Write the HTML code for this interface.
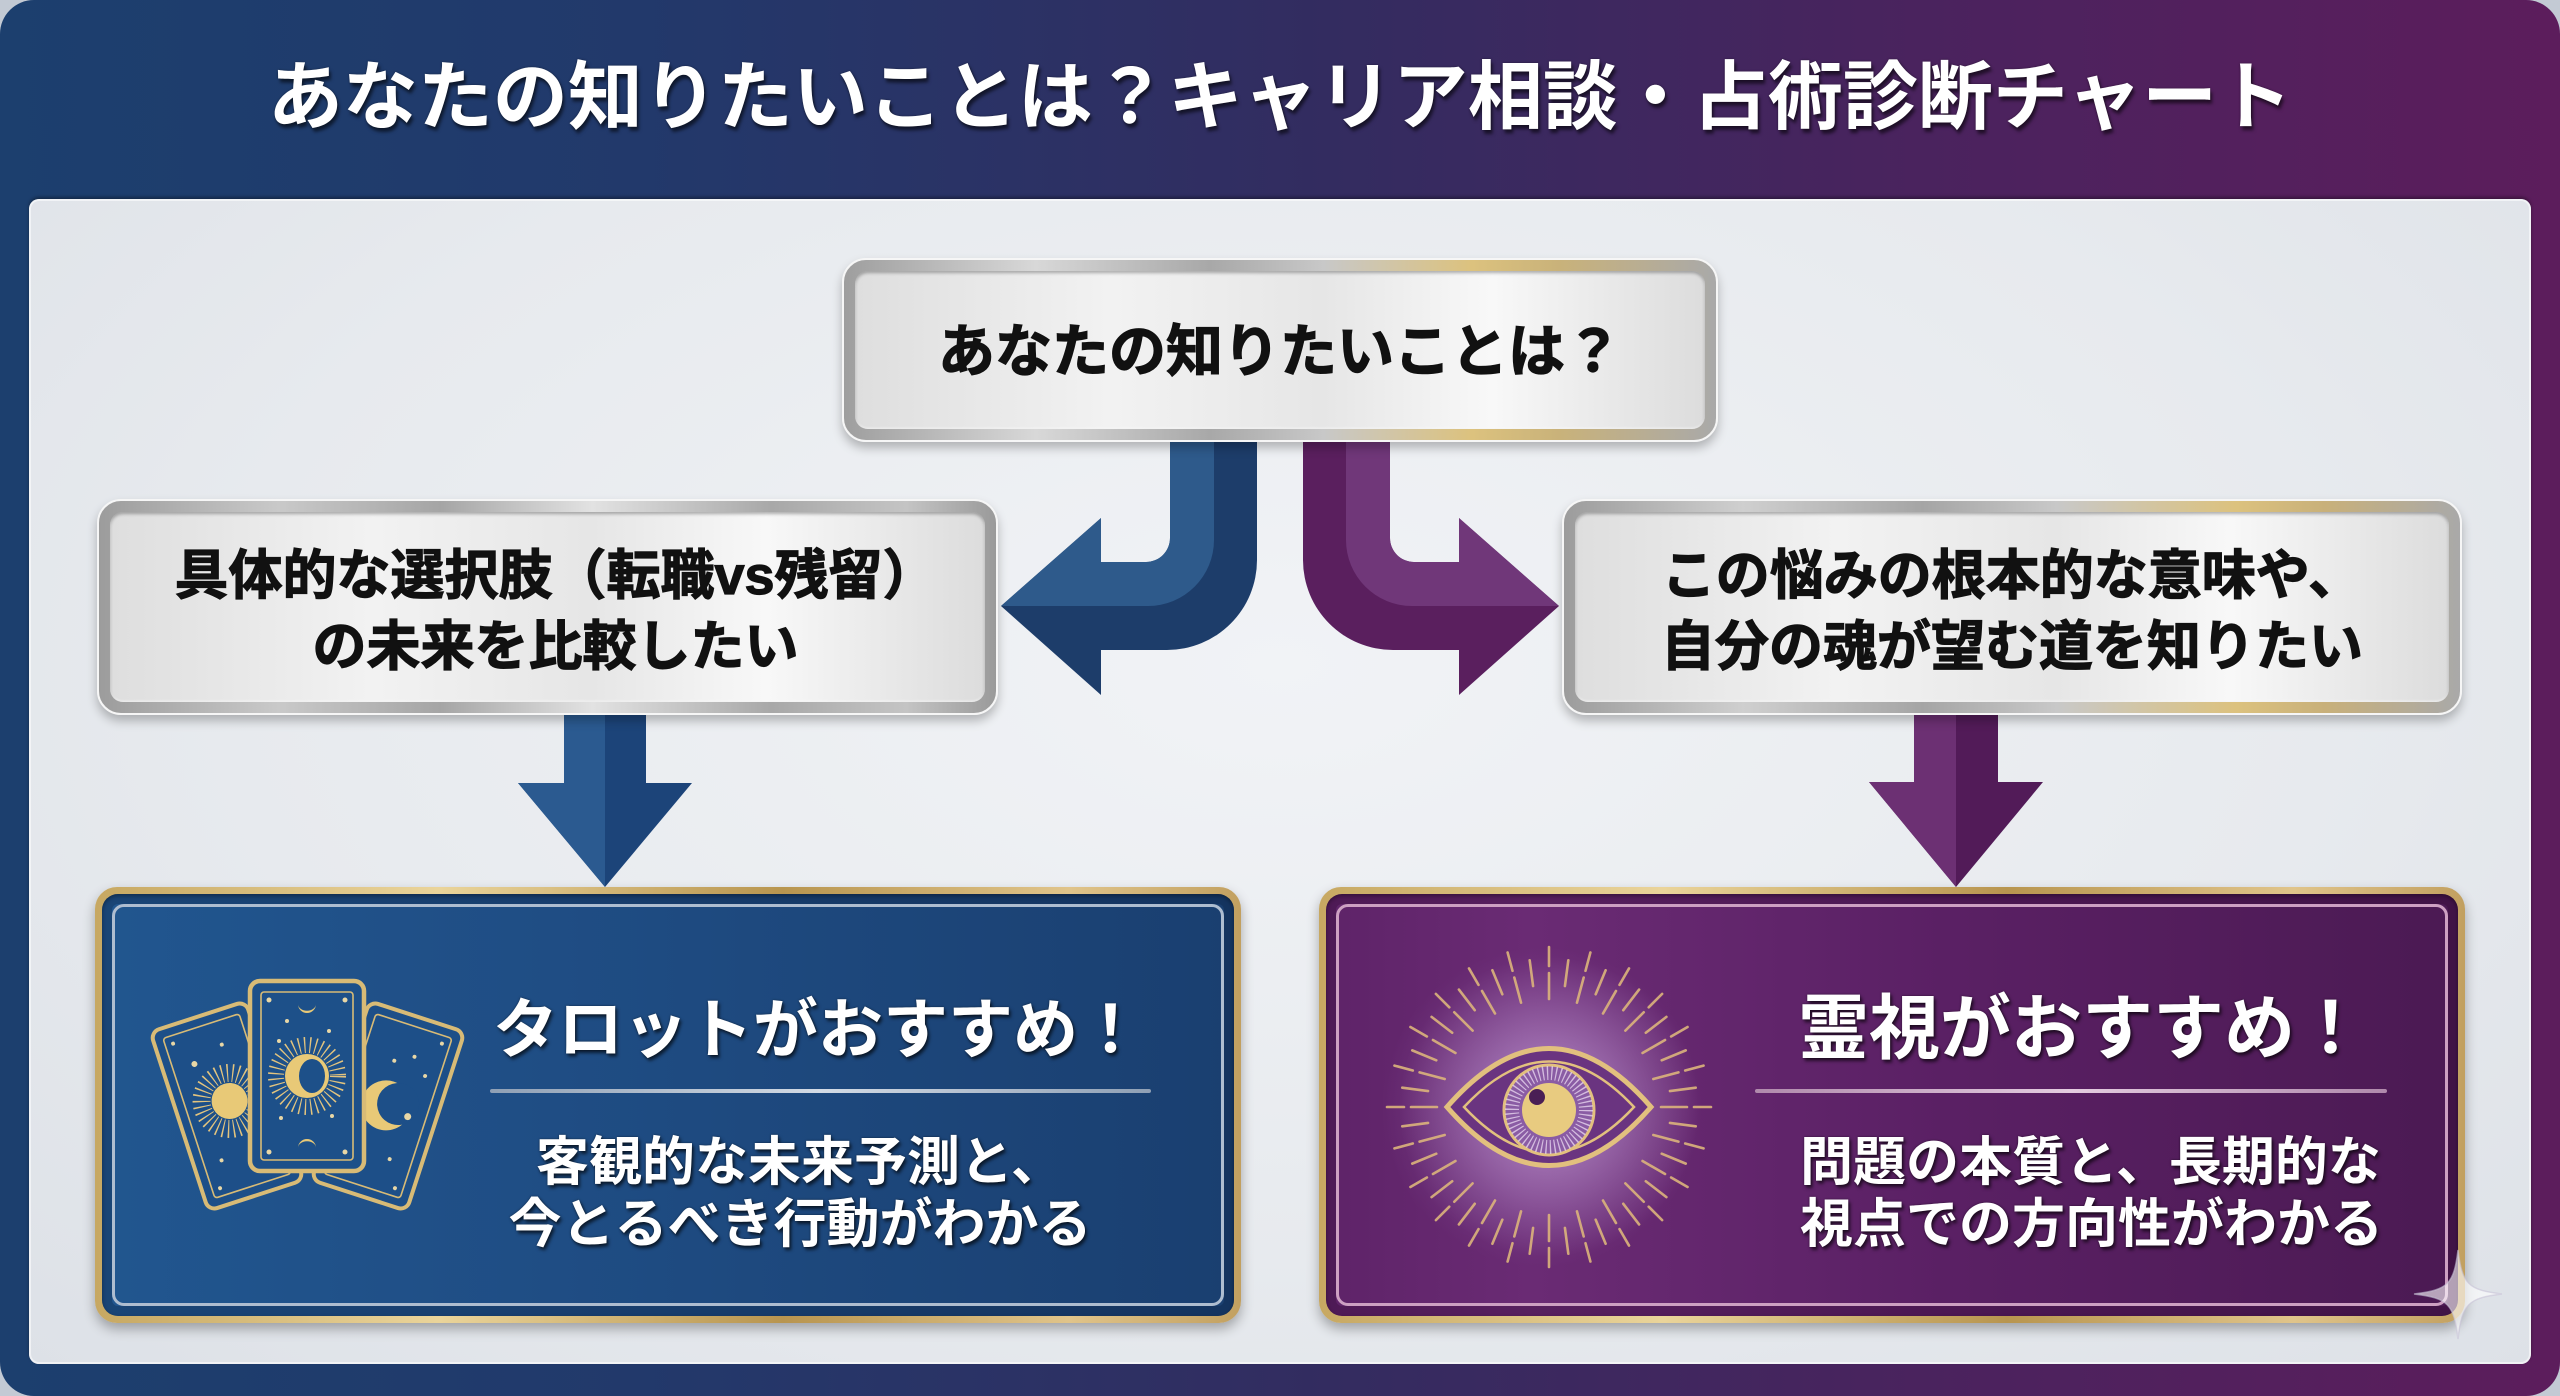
<!DOCTYPE html>
<html lang="ja">
<head>
<meta charset="utf-8">
<style>
  html,body{margin:0;padding:0;}
  body{width:2560px;height:1396px;overflow:hidden;background:#c3cad4;position:relative;
       font-family:"Liberation Sans","Noto Sans CJK JP",sans-serif;}
  .frame{position:absolute;left:0;top:0;width:2560px;height:1396px;border-radius:34px;
         background:linear-gradient(90deg,#1c3f6e 0%,#22396b 25%,#332c60 52%,#4a235e 75%,#5c1d5c 100%);}
  .title{position:absolute;left:0;top:52px;width:2560px;text-align:center;font-size:75px;line-height:90px;
         font-weight:700;color:#fff;text-shadow:2px 4px 3px rgba(0,0,0,.55),0 0 2px rgba(0,0,0,.4);white-space:nowrap;}
  .panel{position:absolute;left:29px;top:199px;width:2502px;height:1165px;border-radius:10px;
         background:radial-gradient(ellipse at 50% 40%,#f1f3f6 0%,#e7eaee 60%,#dde1e7 100%);
         box-shadow:0 -2px 3px rgba(0,0,0,.35), inset 0 0 0 2px rgba(255,255,255,.55);z-index:1;}
  .mbox{position:absolute;border-radius:24px;box-sizing:border-box;border:2px solid #f6f6f6;z-index:3;
        box-shadow:0 6px 10px rgba(0,0,0,.25);}
  .mbox .face{position:absolute;left:11px;top:11px;right:11px;bottom:11px;border-radius:13px;
        background:linear-gradient(90deg,#dedede 0%,#f2f2f2 30%,#e6e6e6 55%,#f8f8f8 75%,#dcdcdc 100%);
        box-shadow:inset 0 2px 3px rgba(0,0,0,.3), inset 0 -1px 2px rgba(255,255,255,.7);}
  .txt{position:absolute;z-index:5;font-weight:700;white-space:nowrap;}
  .dark{color:#111;-webkit-text-stroke:1.2px #111;text-shadow:0 0 2px rgba(255,255,255,.8);}
  .light{color:#fff;text-shadow:2px 3px 3px rgba(0,0,0,.6),0 0 2px rgba(0,0,0,.5);}
  .card{position:absolute;border-radius:22px;z-index:3;box-shadow:0 6px 12px rgba(0,0,0,.3);
        background:linear-gradient(90deg,#c7a862 0%,#ead49a 30%,#b8954f 60%,#e0c48a 85%,#c2a060 100%);}
  .card .cin{position:absolute;left:7px;top:7px;right:7px;bottom:7px;border-radius:16px;}
  .card .cline{position:absolute;left:17px;top:17px;right:17px;bottom:17px;border-radius:12px;}
  .blue .cin{background:linear-gradient(90deg,#21568f 0%,#1f4d84 40%,#1a3f70 100%);
        box-shadow:inset 0 0 0 10px rgba(8,25,55,.28), inset 0 2px 4px rgba(0,0,0,.4);}
  .blue .cline{border:3px solid #aebdd0;}
  .purple .cin{background:radial-gradient(circle at 216px 213px,rgba(175,130,205,.45) 0%,rgba(175,130,205,0) 160px),
        linear-gradient(90deg,#5e2368 0%,#6a2b74 18%,#5a2064 55%,#4b1a53 100%);
        box-shadow:inset 0 0 0 10px rgba(40,5,40,.28), inset 0 2px 4px rgba(0,0,0,.4);}
  .purple .cline{border:3px solid #cda0c2;}
  .divider{position:absolute;height:4px;z-index:5;border-radius:2px;}
  svg{position:absolute;left:0;top:0;}
</style>
</head>
<body>
<div class="frame"></div>
<div class="title">あなたの知りたいことは？キャリア相談・占術診断チャート</div>
<div class="panel"></div>

<!-- connectors -->
<svg width="2560" height="1396" style="z-index:2">
  <path d="M1170,436 L1257,436 L1257,560 A90,90 0 0 1 1167,650 L1101,650 L1101,695 L1001,606 L1101,518 L1101,562 L1146,562 A24,24 0 0 0 1170,538 Z" fill="#1d3d6a"/>
  <path d="M1170,436 L1214,436 L1214,540 A66,66 0 0 1 1148,606 L1001,606 L1101,518 L1101,562 L1146,562 A24,24 0 0 0 1170,538 Z" fill="#2e5a8b"/>
  <g transform="translate(2560,0) scale(-1,1)">
    <path d="M1170,436 L1257,436 L1257,560 A90,90 0 0 1 1167,650 L1101,650 L1101,695 L1001,606 L1101,518 L1101,562 L1146,562 A24,24 0 0 0 1170,538 Z" fill="#5a1f5e"/>
    <path d="M1170,436 L1214,436 L1214,540 A66,66 0 0 1 1148,606 L1001,606 L1101,518 L1101,562 L1146,562 A24,24 0 0 0 1170,538 Z" fill="#703779"/>
  </g>
  <path d="M564,708 L646,708 L646,783 L692,783 L605,887 L518,783 L564,783 Z" fill="#1c4479"/>
  <path d="M564,708 L605,708 L605,887 L518,783 L564,783 Z" fill="#2b5a90"/>
  <path d="M1914,708 L1998,708 L1998,782 L2043,782 L1956,887 L1869,782 L1914,782 Z" fill="#521b58"/>
  <path d="M1914,708 L1956,708 L1956,887 L1869,782 L1914,782 Z" fill="#6c3073"/>
</svg>

<!-- metallic boxes -->
<div class="mbox" style="left:842px;top:258px;width:876px;height:184px;
  background:linear-gradient(90deg,#9e9e9e 0%,#d8d8d8 22%,#a8a8a8 42%,#c8c8c8 55%,#dcc27e 72%,#c9b27a 82%,#a9a9a9 100%);">
  <div class="face"></div></div>
<div class="mbox" style="left:97px;top:499px;width:901px;height:216px;
  background:linear-gradient(90deg,#9c9c9c 0%,#c9c9c9 20%,#a5a5a5 38%,#e2e2e2 55%,#a8a8a8 75%,#c4c4c4 90%,#9a9a9a 100%);">
  <div class="face"></div></div>
<div class="mbox" style="left:1562px;top:499px;width:900px;height:216px;
  background:linear-gradient(90deg,#9c9c9c 0%,#cfcfcf 20%,#a5a5a5 40%,#c8c8c8 55%,#dcc27e 75%,#c8b07a 85%,#a9a9a9 100%);">
  <div class="face"></div></div>

<div class="txt dark" style="left:842px;top:312px;width:876px;text-align:center;font-size:57px;line-height:80px;">あなたの知りたいことは？</div>
<div class="txt dark" style="left:105px;top:541px;width:901px;text-align:center;font-size:54px;line-height:71px;">具体的な選択肢（転職vs残留）<br>の未来を比較したい</div>
<div class="txt dark" style="left:1562px;top:541px;width:900px;text-align:center;font-size:54px;line-height:71px;">この悩みの根本的な意味や、<br>自分の魂が望む道を知りたい</div>

<!-- result cards -->
<div class="card blue" style="left:95px;top:887px;width:1146px;height:436px;"><div class="cin"></div><div class="cline"></div></div>
<div class="card purple" style="left:1319px;top:887px;width:1146px;height:436px;"><div class="cin"></div><div class="cline"></div></div>

<!-- icons -->
<svg width="2560" height="1396" style="z-index:4">
  <defs>
    <radialGradient id="glow" cx="0.5" cy="0.5" r="0.5">
      <stop offset="0" stop-color="#d8b8ea" stop-opacity=".55"/>
      <stop offset="1" stop-color="#d8b8ea" stop-opacity="0"/>
    </radialGradient>
  </defs>
  <g fill="none" stroke="#d8bb76">
    <g transform="translate(227,1106) rotate(-18)">
      <rect x="-50" y="-94" width="100" height="188" rx="9" fill="#1d4f88" stroke-width="4"/>
      <rect x="-40" y="-84" width="80" height="168" rx="3" stroke-width="1.6"/>
      <circle cx="4" cy="-4" r="28" stroke="#e3c47e" stroke-width="18" stroke-dasharray="1.3 4"/>
      <circle cx="4" cy="-4" r="18" fill="#e8c977" stroke="none"/>
      <circle cx="-18" cy="-50" r="3" fill="#e8d7a6" stroke="none"/>
      <circle cx="14" cy="-60" r="2" fill="#e8d7a6" stroke="none"/>
      <circle cx="-22" cy="50" r="2" fill="#e8d7a6" stroke="none"/>
      <circle cx="-32" cy="-76" r="2" fill="#e8d7a6" stroke="none"/>
      <circle cx="-32" cy="76" r="2" fill="#e8d7a6" stroke="none"/>
    </g>
    <g transform="translate(388,1106) rotate(18)">
      <rect x="-50" y="-94" width="100" height="188" rx="9" fill="#1d4f88" stroke-width="4"/>
      <rect x="-40" y="-84" width="80" height="168" rx="3" stroke-width="1.6"/>
      <circle cx="-2" cy="0" r="25" fill="#e8c977" stroke="none"/>
      <circle cx="9" cy="-5" r="21" fill="#1d4f88" stroke="none"/>
      <circle cx="22" cy="4" r="3.5" fill="#e8d7a6" stroke="none"/>
      <circle cx="10" cy="-55" r="2" fill="#e8d7a6" stroke="none"/>
      <circle cx="26" cy="-40" r="2" fill="#e8d7a6" stroke="none"/>
      <circle cx="-8" cy="-45" r="2" fill="#e8d7a6" stroke="none"/>
      <circle cx="18" cy="50" r="2" fill="#e8d7a6" stroke="none"/>
      <circle cx="32" cy="-76" r="2" fill="#e8d7a6" stroke="none"/>
      <circle cx="32" cy="76" r="2" fill="#e8d7a6" stroke="none"/>
    </g>
    <g transform="translate(307,1076)">
      <rect x="-57" y="-95" width="114" height="190" rx="10" fill="#1d5089" stroke-width="4.5"/>
      <rect x="-46" y="-84" width="92" height="168" rx="3" stroke-width="1.6"/>
      <circle cx="0" cy="0" r="31" stroke="#e3c47e" stroke-width="16" stroke-dasharray="1.3 4.2"/>
      <circle cx="0" cy="0" r="22" fill="#e8c977" stroke="none"/>
      <ellipse cx="5" cy="0" rx="13" ry="17" fill="#1d5089" stroke="none"/>
      <path d="M-9,-72 A9,9 0 0 0 9,-72 A8,6 0 0 1 -9,-72 Z" fill="#e8c977" stroke="none"/>
      <path d="M-9,72 A9,9 0 0 1 9,72 A8,6 0 0 0 -9,72 Z" fill="#e8c977" stroke="none"/>
      <circle cx="-20" cy="-55" r="2" fill="#e8d7a6" stroke="none"/>
      <circle cx="22" cy="-45" r="2" fill="#e8d7a6" stroke="none"/>
      <circle cx="-28" cy="-35" r="2" fill="#e8d7a6" stroke="none"/>
      <circle cx="25" cy="40" r="2" fill="#e8d7a6" stroke="none"/>
      <circle cx="-26" cy="42" r="2" fill="#e8d7a6" stroke="none"/>
      <circle cx="-38" cy="-76" r="2.5" fill="#e8d7a6" stroke="none"/>
      <circle cx="38" cy="-76" r="2.5" fill="#e8d7a6" stroke="none"/>
      <circle cx="-38" cy="76" r="2.5" fill="#e8d7a6" stroke="none"/>
      <circle cx="38" cy="76" r="2.5" fill="#e8d7a6" stroke="none"/>
    </g>
  </g>

  <circle cx="1549" cy="1107" r="150" fill="url(#glow)"/>
  <g transform="translate(1549,1107)" stroke="#dcb47c" stroke-width="2.6" stroke-linecap="round" opacity=".9">
    <g stroke-dasharray="26 7 20">
      <line y1="-108" y2="-160" transform="rotate(0)"/><line y1="-108" y2="-160" transform="rotate(15)"/>
      <line y1="-108" y2="-160" transform="rotate(30)"/><line y1="-108" y2="-160" transform="rotate(45)"/>
      <line y1="-108" y2="-160" transform="rotate(60)"/><line y1="-108" y2="-160" transform="rotate(75)"/>
      <line y1="-112" y2="-162" transform="rotate(90)"/><line y1="-108" y2="-160" transform="rotate(105)"/>
      <line y1="-108" y2="-160" transform="rotate(120)"/><line y1="-108" y2="-160" transform="rotate(135)"/>
      <line y1="-108" y2="-160" transform="rotate(150)"/><line y1="-108" y2="-160" transform="rotate(165)"/>
      <line y1="-108" y2="-160" transform="rotate(180)"/><line y1="-108" y2="-160" transform="rotate(195)"/>
      <line y1="-108" y2="-160" transform="rotate(210)"/><line y1="-108" y2="-160" transform="rotate(225)"/>
      <line y1="-108" y2="-160" transform="rotate(240)"/><line y1="-108" y2="-160" transform="rotate(255)"/>
      <line y1="-112" y2="-162" transform="rotate(270)"/><line y1="-108" y2="-160" transform="rotate(285)"/>
      <line y1="-108" y2="-160" transform="rotate(300)"/><line y1="-108" y2="-160" transform="rotate(315)"/>
      <line y1="-108" y2="-160" transform="rotate(330)"/><line y1="-108" y2="-160" transform="rotate(345)"/>
    </g>
    <g>
      <line y1="-122" y2="-148" transform="rotate(7.5)"/><line y1="-122" y2="-148" transform="rotate(22.5)"/>
      <line y1="-122" y2="-148" transform="rotate(37.5)"/><line y1="-122" y2="-148" transform="rotate(52.5)"/>
      <line y1="-122" y2="-148" transform="rotate(67.5)"/><line y1="-122" y2="-148" transform="rotate(82.5)"/>
      <line y1="-122" y2="-148" transform="rotate(97.5)"/><line y1="-122" y2="-148" transform="rotate(112.5)"/>
      <line y1="-122" y2="-148" transform="rotate(127.5)"/><line y1="-122" y2="-148" transform="rotate(142.5)"/>
      <line y1="-122" y2="-148" transform="rotate(157.5)"/><line y1="-122" y2="-148" transform="rotate(172.5)"/>
      <line y1="-122" y2="-148" transform="rotate(187.5)"/><line y1="-122" y2="-148" transform="rotate(202.5)"/>
      <line y1="-122" y2="-148" transform="rotate(217.5)"/><line y1="-122" y2="-148" transform="rotate(232.5)"/>
      <line y1="-122" y2="-148" transform="rotate(247.5)"/><line y1="-122" y2="-148" transform="rotate(262.5)"/>
      <line y1="-122" y2="-148" transform="rotate(277.5)"/><line y1="-122" y2="-148" transform="rotate(292.5)"/>
      <line y1="-122" y2="-148" transform="rotate(307.5)"/><line y1="-122" y2="-148" transform="rotate(322.5)"/>
      <line y1="-122" y2="-148" transform="rotate(337.5)"/><line y1="-122" y2="-148" transform="rotate(352.5)"/>
    </g>
  </g>
  <path d="M1447,1107 Q1549,990 1651,1107 Q1549,1224 1447,1107 Z" fill="#6a3480" stroke="#e2c07e" stroke-width="5"/>
  <path d="M1464,1107 Q1549,1016 1634,1107 Q1549,1198 1464,1107 Z" fill="none" stroke="#e2c07e" stroke-width="2.5"/>
  <circle cx="1549" cy="1110" r="45" fill="#8a5ca4" stroke="#e2c07e" stroke-width="3"/>
  <circle cx="1549" cy="1110" r="37" fill="none" stroke="#e6d4ee" stroke-width="14" stroke-dasharray="1.3 3" opacity=".8"/>
  <circle cx="1549" cy="1110" r="27" fill="#e8cb80"/>
  <circle cx="1537" cy="1097" r="8" fill="#4a1f55"/>

  <path d="M2458,1250 C2462,1284 2468,1290 2502,1294 C2468,1298 2462,1304 2458,1339 C2454,1304 2448,1298 2414,1294 C2448,1290 2454,1284 2458,1250 Z"
        fill="rgba(255,255,255,.6)" stroke="rgba(200,195,215,.6)" stroke-width="1.5"/>
</svg>

<!-- card texts -->
<div class="txt light" style="left:493px;top:990px;width:640px;text-align:center;font-size:65px;line-height:80px;">タロットがおすすめ！</div>
<div class="divider" style="left:490px;top:1089px;width:661px;background:linear-gradient(90deg,#8fa0b5,#d3dbe5 50%,#8fa0b5);"></div>
<div class="txt light" style="left:500px;top:1132px;width:600px;text-align:center;font-size:53px;line-height:62px;">客観的な未来予測と、<br>今とるべき行動がわかる</div>

<div class="txt light" style="left:1798px;top:990px;font-size:71px;line-height:80px;">霊視がおすすめ！</div>
<div class="divider" style="left:1755px;top:1089px;width:632px;background:linear-gradient(90deg,#b08aac,#e4cce0 50%,#b08aac);"></div>
<div class="txt light" style="left:1800px;top:1132px;font-size:53px;line-height:62px;">問題の本質と、長期的な<br>視点での方向性がわかる</div>
</body>
</html>
